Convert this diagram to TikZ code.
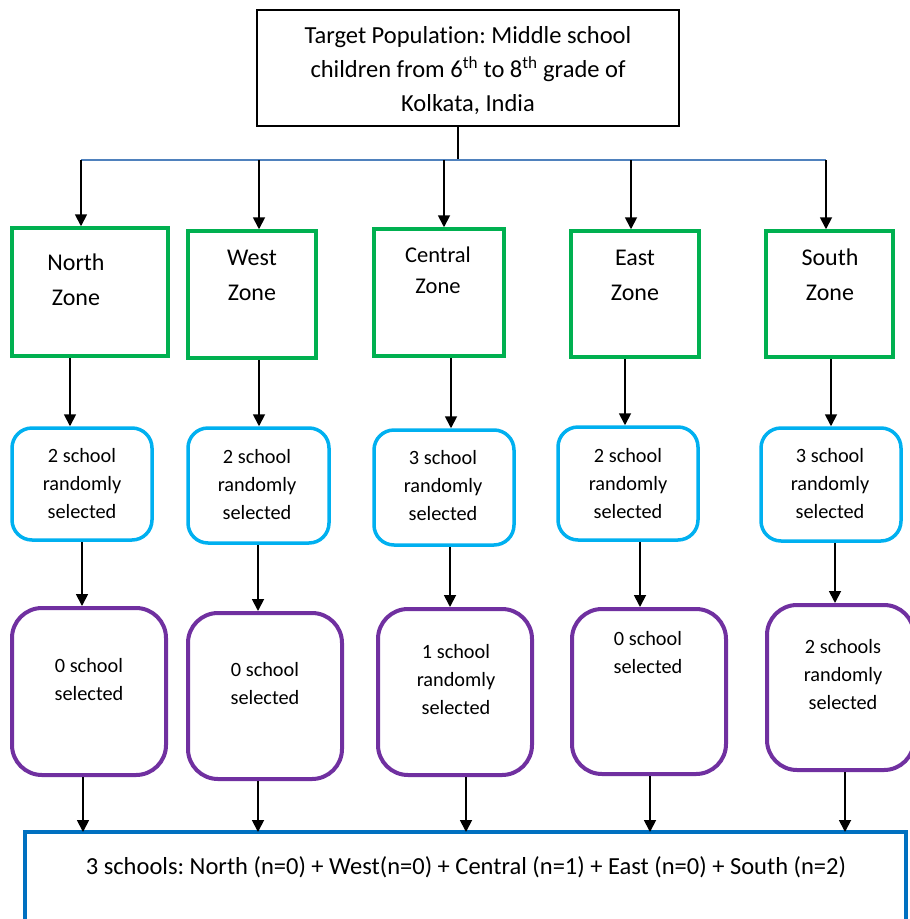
\documentclass[tikz,border=0pt]{standalone}
\usepackage{fontspec}
\setmainfont{Carlito}[Ligatures={NoCommon}]
\usetikzlibrary{arrows.meta}
\definecolor{zgreen}{RGB}{0,176,80}
\definecolor{zcyan}{RGB}{0,176,240}
\definecolor{zpurple}{RGB}{112,48,160}
\definecolor{zblue}{RGB}{0,112,192}
\definecolor{zbus}{RGB}{79,129,189}
\tikzset{
  topbox/.style={draw=black,line width=1.5pt,inner sep=0pt},
  gbox/.style={draw=zgreen,line width=3.5pt,inner sep=0pt},
  cbox/.style={draw=zcyan,line width=3.5pt,rounded corners=20pt,inner sep=0pt},
  pbox/.style={draw=zpurple,line width=4pt,rounded corners=30pt,inner sep=0pt},
  bbox/.style={draw=zblue,line width=4pt},
  ztxt/.style={align=center,font=\fontsize{24pt}{35pt}\selectfont,inner sep=0pt},
  ctxt/.style={align=center,font=\fontsize{22.5pt}{31pt}\selectfont,inner sep=0pt},
  stxt/.style={align=center,font=\fontsize{20.3pt}{28pt}\selectfont,inner sep=0pt},
  arr/.style={draw=black,line width=1.8pt,-{Triangle[length=12pt,width=12pt]}},
  stem/.style={draw=black,line width=1.2pt},
  bus/.style={draw=zbus,line width=2.5pt}
}
\begin{document}
\frenchspacing
\begin{tikzpicture}[x=1pt,y=-1pt]
\useasboundingbox[fill=white] (0,0) rectangle (910,919);
% top box
\node[topbox,minimum width=422pt,minimum height=116pt] (top) at (468,68) {};
\node[align=center,font=\fontsize{24.5pt}{34pt}\selectfont,inner sep=0pt] (toptxt) at (468,71)
  {Target Population: Middle school\\children from 6\textsuperscript{th} to 8\textsuperscript{th} grade of\\Kolkata, India};
% bus
\coordinate (busL) at (81,160);
\coordinate (busR) at (826,160);
\coordinate (busM) at (458,160);
\draw[stem] (top.south -| busM) -- (busM);
\draw[bus] (busL) -- (busR);
% green zone boxes
\node[gbox,minimum width=156pt,minimum height=128pt] (g1) at (90,292) {};
\node[gbox,minimum width=128pt,minimum height=127pt] (g2) at (252,294.5) {};
\node[gbox,minimum width=130pt,minimum height=127pt] (g3) at (439,292.5) {};
\node[gbox,minimum width=128pt,minimum height=126pt] (g4) at (635,294) {};
\node[gbox,minimum width=127pt,minimum height=126pt] (g5) at (829.5,294) {};
\node[ztxt] (g1t) at (76,280) {North\\Zone};
\node[ztxt] (g2t) at (252,275) {West\\Zone};
\node[ctxt] (g3t) at (438,270) {Central\\Zone};
\node[ztxt] (g4t) at (635,275) {East\\Zone};
\node[ztxt] (g5t) at (830,275) {South\\Zone};
% cyan boxes
\node[cbox,minimum width=140pt,minimum height=112pt] (c1) at (82,484) {};
\node[cbox,minimum width=141pt,minimum height=115pt] (c2) at (258.5,485.5) {};
\node[cbox,minimum width=140pt,minimum height=115pt] (c3) at (444,487.5) {};
\node[cbox,minimum width=140pt,minimum height=113pt] (c4) at (628,483.5) {};
\node[cbox,minimum width=140pt,minimum height=113pt] (c5) at (831,484.5) {};
\node[stxt] (c1t) at (82,484) {2 school\\randomly\\selected};
\node[stxt] (c2t) at (257,485) {2 school\\randomly\\selected};
\node[stxt] (c3t) at (443,486) {3 school\\randomly\\selected};
\node[stxt] (c4t) at (628,484) {2 school\\randomly\\selected};
\node[stxt] (c5t) at (830,484) {3 school\\randomly\\selected};
% purple boxes
\node[pbox,minimum width=154pt,minimum height=167pt] (p1) at (89,691.5) {};
\node[pbox,minimum width=154pt,minimum height=166pt] (p2) at (265,696) {};
\node[pbox,minimum width=154pt,minimum height=166pt] (p3) at (455,692) {};
\node[pbox,minimum width=154pt,minimum height=165pt] (p4) at (649,691.5) {};
\node[pbox,minimum width=147pt,minimum height=165pt] (p5) at (840.5,687.5) {};
\node[stxt] (p1t) at (89,680) {0 school\\selected};
\node[stxt] (p2t) at (265,684) {0 school\\selected};
\node[stxt] (p3t) at (456,680) {1 school\\randomly\\selected};
\node[stxt] (p4t) at (648,653) {0 school\\selected};
\node[stxt] (p5t) at (843,675) {2 schools\\randomly\\selected};
% bottom box
\coordinate (bTL) at (25,832);
\coordinate (bBR) at (906,945);
\draw[bbox] (bTL) rectangle (bBR);
\node[font=\fontsize{24.5pt}{28pt}\selectfont,inner sep=0pt] (bt) at (466,867)
  {3 schools: North (n=0) + West(n=0) + Central (n=1) + East (n=0) + South (n=2)};
% arrow columns
\coordinate (a1) at (81,160); \coordinate (a2) at (259,160); \coordinate (a3) at (444,160);
\coordinate (a4) at (631,160); \coordinate (a5) at (826,160);
\draw[arr] (a1) -- (a1 |- g1.north);
\draw[arr] (a2) -- (a2 |- g2.north);
\draw[arr] (a3) -- (a3 |- g3.north);
\draw[arr] (a4) -- (a4 |- g4.north);
\draw[arr] (a5) -- (a5 |- g5.north);
\coordinate (b1) at (70,0); \coordinate (b2) at (259,0); \coordinate (b3) at (451,0);
\coordinate (b4) at (625,0); \coordinate (b5) at (831,0);
\draw[arr] (b1 |- g1.south) -- (b1 |- c1.north);
\draw[arr] (b2 |- g2.south) -- (b2 |- c2.north);
\draw[arr] (b3 |- g3.south) -- (b3 |- c3.north);
\draw[arr] (b4 |- g4.south) -- (b4 |- c4.north);
\draw[arr] (b5 |- g5.south) -- (b5 |- c5.north);
\coordinate (d1) at (82,0); \coordinate (d2) at (258,0); \coordinate (d3) at (450,0);
\coordinate (d4) at (640,0); \coordinate (d5) at (835,0);
\draw[arr] (d1 |- c1.south) -- (d1 |- p1.north);
\draw[arr] (d2 |- c2.south) -- (d2 |- p2.north);
\draw[arr] (d3 |- c3.south) -- (d3 |- p3.north);
\draw[arr] (d4 |- c4.south) -- (d4 |- p4.north);
\draw[arr] (d5 |- c5.south) -- (d5 |- p5.north);
\coordinate (e1) at (83,0); \coordinate (e2) at (258,0); \coordinate (e3) at (466,0);
\coordinate (e4) at (650,0); \coordinate (e5) at (845,0);
\draw[arr] (e1 |- p1.south) -- (e1 |- bTL);
\draw[arr] (e2 |- p2.south) -- (e2 |- bTL);
\draw[arr] (e3 |- p3.south) -- (e3 |- bTL);
\draw[arr] (e4 |- p4.south) -- (e4 |- bTL);
\draw[arr] (e5 |- p5.south) -- (e5 |- bTL);
\end{tikzpicture}
\end{document}
